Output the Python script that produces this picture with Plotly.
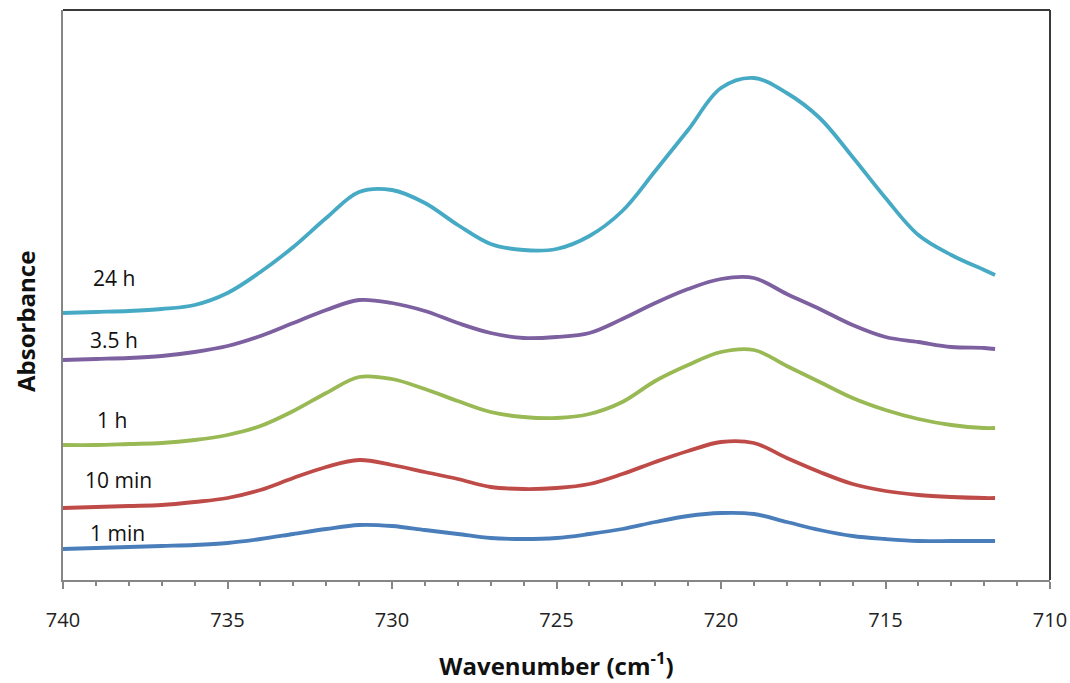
import plotly.graph_objects as go

wavenumber = [740, 739, 738, 737, 736, 735, 734, 733, 732, 731, 730, 729, 728, 727, 726,
              725, 724, 723, 722, 721, 720, 719, 718, 717, 716, 715, 714, 713, 712, 711.67]

abs_1min = [0.062, 0.064, 0.066, 0.068, 0.070, 0.074, 0.082, 0.092, 0.102, 0.110, 0.108, 0.100,
            0.092, 0.084, 0.082, 0.084, 0.092, 0.102, 0.116, 0.128, 0.134, 0.132, 0.116, 0.100,
            0.088, 0.082, 0.078, 0.078, 0.078, 0.078]
abs_10min = [0.144, 0.146, 0.148, 0.150, 0.156, 0.164, 0.180, 0.204, 0.226, 0.240, 0.230, 0.216,
             0.202, 0.186, 0.182, 0.184, 0.192, 0.212, 0.236, 0.258, 0.276, 0.274, 0.244, 0.216,
             0.192, 0.178, 0.170, 0.166, 0.164, 0.164]
abs_1h = [0.270, 0.270, 0.272, 0.274, 0.280, 0.290, 0.308, 0.338, 0.374, 0.406, 0.402, 0.382,
          0.358, 0.336, 0.326, 0.324, 0.332, 0.356, 0.398, 0.430, 0.456, 0.460, 0.428, 0.396,
          0.364, 0.340, 0.322, 0.310, 0.304, 0.304]
abs_3_5h = [0.440, 0.442, 0.444, 0.448, 0.456, 0.468, 0.488, 0.514, 0.540, 0.560, 0.554, 0.538,
            0.514, 0.494, 0.484, 0.486, 0.494, 0.522, 0.554, 0.582, 0.602, 0.604, 0.572, 0.542,
            0.510, 0.486, 0.476, 0.466, 0.464, 0.462]
abs_24h = [0.534, 0.536, 0.538, 0.542, 0.550, 0.574, 0.616, 0.666, 0.724, 0.776, 0.780, 0.754,
           0.710, 0.672, 0.660, 0.662, 0.688, 0.738, 0.818, 0.900, 0.984, 1.004, 0.974, 0.924,
           0.846, 0.764, 0.690, 0.650, 0.620, 0.610]

series_names = ["1 min", "10 min", "1 h", "3.5 h", "24 h"]
series_values = [abs_1min, abs_10min, abs_1h, abs_3_5h, abs_24h]
colors = ["#4A7EBB", "#BE4B48", "#98B954", "#7D60A0", "#46AAC5"]

# label anchors (wavenumber, absorbance)
label_x = [738.35, 738.3, 738.5, 738.45, 738.45]
label_y = [0.094, 0.200, 0.320, 0.480, 0.604]

FONT = "Open Sans, Liberation Sans, sans-serif"

fig = go.Figure()
for name, vals, col in zip(series_names, series_values, colors):
    fig.add_trace(go.Scatter(
        x=wavenumber, y=vals, mode="lines", name=name,
        line=dict(color=col, width=3.8, shape="spline", smoothing=1.0),
        showlegend=False, hoverinfo="skip"))

for name, lx, ly in zip(series_names, label_x, label_y):
    fig.add_annotation(x=lx, y=ly, xref="x", yref="y", text=name, showarrow=False,
                       font=dict(family=FONT, size=21, color="#111"))

fig.add_annotation(x=-0.0385, y=0.4526, xref="paper", yref="paper", text="<b>Absorbance</b>",
                   textangle=-90, showarrow=False, xanchor="center", yanchor="middle",
                   font=dict(family=FONT, size=24, color="#111"))

fig.update_layout(
    width=1070, height=683,
    margin=dict(l=63, r=20, t=10, b=103, autoexpand=False),
    paper_bgcolor="white", plot_bgcolor="white",
    xaxis=dict(
        range=[740, 710], tickmode="linear", tick0=710, dtick=5,
        ticks="outside", ticklen=7, tickcolor="#868686", tickwidth=1.5,
        showline=True, linecolor="#868686", linewidth=1.5,
        showgrid=False, zeroline=False, automargin=False,
        minor=dict(dtick=1, ticks="outside", ticklen=4, tickcolor="#868686", showgrid=False),
        ticklabelstandoff=14,
        tickfont=dict(family=FONT, size=20, color="#222"),
        title=dict(text="<b>Wavenumber (cm<sup>-1</sup>)</b>", standoff=26,
                   font=dict(family=FONT, size=24, color="#111")),
    ),
    yaxis=dict(
        range=[0, 1.14], showticklabels=False, ticks="", showgrid=False, zeroline=False,
        showline=True, linecolor="#868686", linewidth=1.5, automargin=False,
    ),
    shapes=[
        dict(type="line", xref="paper", yref="paper", x0=0, x1=1, y0=1, y1=1,
             line=dict(color="#3a3a3a", width=2)),
        dict(type="line", xref="paper", yref="paper", x0=1, x1=1, y0=0, y1=1,
             line=dict(color="#3a3a3a", width=2)),
    ],
)

fig.write_html("out.html")
